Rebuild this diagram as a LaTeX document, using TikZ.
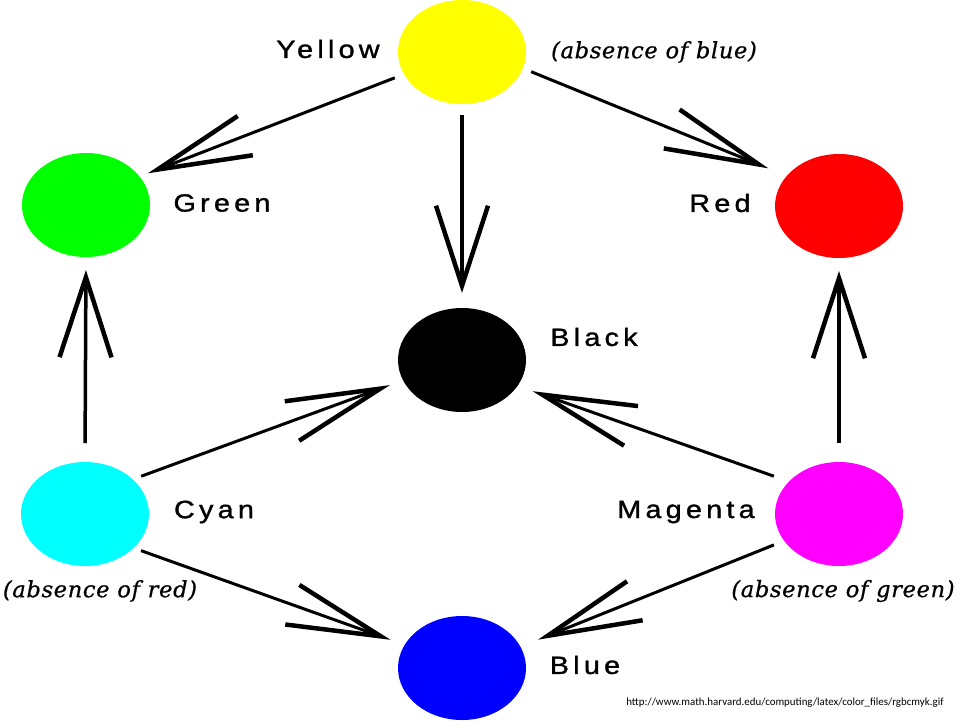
\documentclass[tikz,border=0pt]{standalone}
\usepackage{fontspec}
\usetikzlibrary{shapes.geometric,arrows.meta}
\newfontfamily\labfont[LetterSpace=17,FakeStretch=1.15,FakeBold=1.3]{Liberation Sans}
\newfontfamily\notefont[LetterSpace=3,FakeBold=0.8]{DejaVu Serif}
\newfontfamily\urlfont{Carlito}
\tikzset{
  blob/.style={ellipse, minimum width=128pt, minimum height=104pt, inner sep=0pt, outer sep=0pt, draw=none},
  lab/.style={font=\labfont\fontsize{25}{25}\selectfont, inner sep=0pt},
  note/.style={font=\notefont\itshape\fontsize{22.5}{22.5}\selectfont, inner sep=0pt},
  diag/.style={line width=3pt, -{Straight Barb[length=94pt,width=42pt,line width=4.5pt]}},
  vert/.style={line width=3.5pt, -{Straight Barb[length=80pt,width=52pt,line width=4.5pt]}}
}
\begin{document}
\begin{tikzpicture}[x=1pt,y=-1pt]
\useasboundingbox (0,0) rectangle (960,720);
\fill[white] (0,0) rectangle (960,720);
\node[blob, fill={rgb,255:red,255;green,255;blue,0}] (y) at (462,52) {};
\node[blob, fill={rgb,255:red,0;green,255;blue,0}] (g) at (86,205) {};
\node[blob, fill={rgb,255:red,255;green,0;blue,0}] (r) at (839,206) {};
\node[blob, fill=black] (k) at (462,360) {};
\node[blob, fill={rgb,255:red,0;green,255;blue,255}] (c) at (85,514) {};
\node[blob, fill={rgb,255:red,255;green,0;blue,255}] (m) at (839,514) {};
\node[blob, fill={rgb,255:red,0;green,0;blue,255}] (b) at (462,668) {};
\node[lab] (ly) at (328,49) {Yellow};
\node[lab] (lg) at (222,203) {Green};
\node[lab] (lr) at (720,203) {Red};
\node[lab] (lk) at (594,337) {Black};
\node[lab] (lc) at (214,512) {Cyan};
\node[lab] (lm) at (686,512) {Magenta};
\node[lab] (lb) at (585,665) {Blue};
\node[note] (ny) at (654,52) {(absence of blue)};
\node[note] (nc) at (100,591) {(absence of red)};
\node[note] (nm) at (843,591) {(absence of green)};
\node[font=\urlfont\fontsize{10.9}{10.9}\selectfont, inner sep=0pt] (url) at (785,703) {http://www.math.harvard.edu/computing/latex/color\_files/rgbcmyk.gif};
\draw[diag, shorten <=10pt, shorten >=9pt] (y.201) -- (g.28);
\draw[vert, shorten <=11pt, shorten >=15pt] (y.270) -- (k.90);
\draw[diag, shorten <=9pt, shorten >=20pt] (y.345.6) -- (r.150.6);
\draw[vert, shorten <=19pt, shorten >=13pt] (c.90) -- (g.270);
\draw[vert, shorten <=19pt, shorten >=13pt] (m.90) -- (r.270);
\draw[diag, shorten <=9pt, shorten >=14pt] (c.36) -- (k.199);
\draw[diag, shorten <=16pt, shorten >=16pt] (m.147.8) -- (k.335.4);
\draw[diag, shorten <=8pt, shorten >=15pt] (c.325.4) -- (b.158.7);
\draw[diag, shorten <=11pt, shorten >=19pt] (m.206.6) -- (b.20.2);
\end{tikzpicture}
\end{document}
